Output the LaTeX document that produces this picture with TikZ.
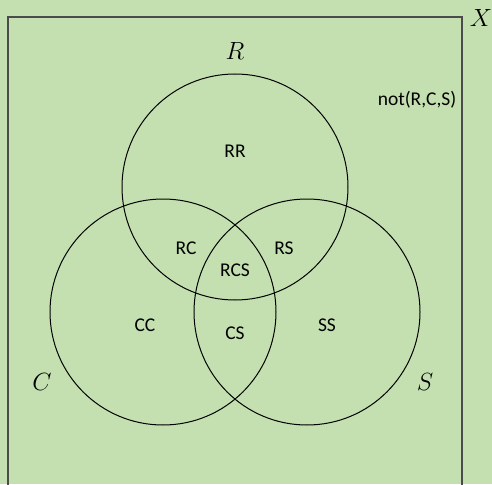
\documentclass[tikz,border=0pt]{standalone}
\usepackage{fontspec}
\setmainfont{Carlito}
\definecolor{bggreen}{RGB}{196,224,177}
\definecolor{framegray}{RGB}{75,75,75}
\begin{document}
\begin{tikzpicture}[x=1pt,y=-1pt,
  setcircle/.style={draw=black,line width=1pt},
  region/.style={font=\fontsize{19.5}{22}\selectfont,inner sep=0pt},
  setname/.style={font=\fontsize{26}{30}\selectfont,inner sep=0pt}]
\fill[bggreen] (0,0) rectangle (492,484);
\useasboundingbox (0,0) rectangle (492,484);
\draw[framegray,line width=1.3pt] (8,500) -- (8,17) -- (462,17) -- (462,500);
\coordinate (cR) at (235,187);
\coordinate (cC) at (163,312);
\coordinate (cS) at (307,312);
\draw[setcircle] (cR) circle[radius=113];
\draw[setcircle] (cC) circle[radius=113];
\draw[setcircle] (cS) circle[radius=113];
\node[setname] (lX) at (481,18) {$X$};
\node[setname] (lR) at (235,51) {$R$};
\node[setname] (lC) at (42,382) {$C$};
\node[setname] (lS) at (425,382) {$S$};
\node[region] (nots) at (417,100) {not(R,C,S)};
\node[region] (RR) at (235,151) {RR};
\node[region] (RC) at (186,248) {RC};
\node[region] (RS) at (284,248) {RS};
\node[region] (RCS) at (235,270) {RCS};
\node[region] (CC) at (145,325) {CC};
\node[region] (CS) at (235,333) {CS};
\node[region] (SS) at (327,325) {SS};
\end{tikzpicture}
\end{document}
